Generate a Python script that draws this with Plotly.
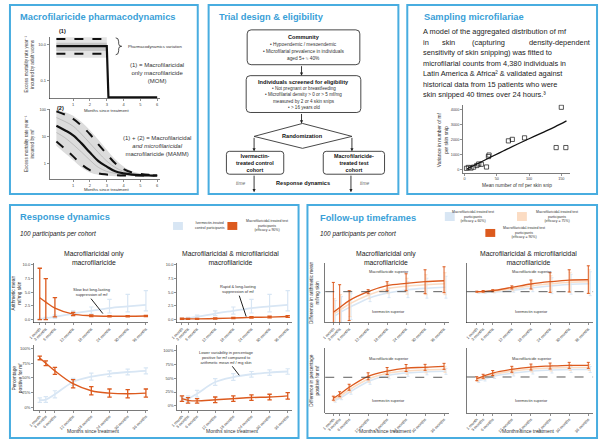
import plotly.graph_objects as go

W, H = 600, 441
TITLE_BLUE = '#3a9fd8'
BORDER = '#48ade0'
ORANGE = '#dc5a1e'
LBLUE = '#d8e6f4'
LORANGE = '#fbdcc3'
TXT = '#333333'
FONT = 'Liberation Sans, Arial, sans-serif'

# ---------------- data ----------------
# Pharmacodynamics (1): adult worm excess mortality
pd1_x = [0, 3, 3.1, 6]
pd1_median = [8.5, 8.5, 0.0115, 0.0115]
pd1_var_x = [0, 3]
pd1_upper = [21, 21]
pd1_lower = [3.2, 3.2]
pd1_band_hi = [26, 26]
pd1_band_lo = [1.9, 1.9]
pd1_inner_hi = [13, 13]
pd1_inner_lo = [4.5, 4.5]

# Pharmacodynamics (2): mf excess mortality
pd2_x = [0, 0.5, 1, 1.5, 2, 2.5, 3, 3.5, 4, 4.5, 5, 5.5, 6]
pd2_median = [25, 17, 11, 5.5, 2.5, 1.2, 0.75, 0.5, 0.42, 0.38, 0.36, 0.35, 0.35]
pd2_upper = [85, 65, 45, 25, 12, 5, 2.2, 1.0, 0.6, 0.45, 0.4, 0.37, 0.36]
pd2_lower = [6.5, 3.5, 1.8, 0.9, 0.55, 0.42, 0.38, 0.36, 0.35, 0.35, 0.35, 0.35, 0.35]
pd2_band_hi = [100, 80, 58, 34, 17, 7.5, 3.2, 1.4, 0.75, 0.5, 0.42, 0.38, 0.37]
pd2_band_lo = [4.5, 2.4, 1.3, 0.7, 0.45, 0.37, 0.34, 0.33, 0.33, 0.33, 0.33, 0.33, 0.33]
pd2_grey_a = [50, 36, 24, 12, 5.5, 2.5, 1.2, 0.7, 0.5, 0.42, 0.38, 0.36, 0.35]
pd2_grey_b = [14, 9, 5, 2.6, 1.3, 0.7, 0.5, 0.42, 0.38, 0.36, 0.35, 0.35, 0.35]
pd_ticks = [1, 2, 3, 4, 5, 6]

# Sampling microfilariae
snip_mean = [3, 6, 10, 14, 19, 22, 26, 34, 37, 38, 68, 74, 93, 142, 150, 157]
snip_var = [60, 120, 80, 140, 250, 350, 330, 150, 850, 950, 1900, 2000, 2100, 1450, 4150, 1450]
fit_mean = [4, 20, 40, 60, 80, 100, 120, 140, 158]
fit_var = [30, 370, 800, 1220, 1640, 2040, 2440, 2840, 3240]

# Response dynamics
months = [1, 3, 6, 12, 18, 24, 30, 36]
month_labels = ['1 month', '3 months', '6 months', '12 months', '18 months',
                '24 months', '30 months', '36 months']
ivm_mean = [0.1, 0.2, 0.5, 1.1, 1.6, 2.1, 2.4, 2.7]
ivm_mean_up = [0.1, 0.2, 0.3, 0.5, 0.7, 1.6, 2.2, 2.6]
ivm_mean_dn = [0.1, 0.15, 0.3, 0.4, 0.6, 0.9, 1.0, 1.1]
mom_mean = [4.0, 3.2, 2.1, 1.0, 0.7, 0.6, 0.6, 0.65]
mom_mean_up = [5.4, 4.3, 1.9, 0.3, 0.15, 0.1, 0.1, 0.1]
mom_mean_dn = [4.0, 3.2, 1.6, 0.3, 0.15, 0.1, 0.1, 0.1]
mamm_mean = [0.15, 0.12, 0.12, 0.18, 0.28, 0.4, 0.45, 0.55]
mamm_mean_err = [0.12, 0.1, 0.1, 0.12, 0.12, 0.15, 0.15, 0.15]
ivm_pct = [12, 13, 22, 43, 52, 57, 60, 62]
ivm_pct_err = [4, 5, 6, 6, 6, 5, 5, 5]
mom_pct = [84, 75, 62, 40, 28, 24, 23, 24]
mom_pct_err = [3, 4, 6, 7, 7, 7, 7, 7]
mamm_pct = [13, 10, 9, 11, 13, 15, 16, 18]
mamm_pct_err = [5, 5, 4, 5, 5, 5, 5, 6]

# Follow-up timeframes (differences vs ivermectin, relative units)
fu_mom_mean_90 = [-2.07, -1.6, -0.9, 0.0, 0.6, 0.83, 1.0, 1.1]
fu_mom_mean_90_up = [3.0, 2.3, 1.0, 0.2, 0.4, 0.97, 1.2, 1.4]
fu_mom_mean_90_dn = [1.5, 1.8, 2.0, 0.2, 0.5, 0.73, 1.2, 1.2]
fu_mom_mean_75 = [-2.2, -1.8, -1.2, -0.3, 0.3, 0.55, 0.7, 0.8]
fu_mom_mean_60 = [-2.4, -2.0, -1.5, -0.6, -0.1, 0.2, 0.35, 0.45]
fu_mom_mean_pale_err = [1.5, 1.5, 1.3, 0.4, 0.5, 0.8, 1.0, 1.1]
fu_mom_pct_90 = [-2.1, -1.7, -1.0, 0.1, 0.63, 0.93, 1.0, 1.1]
fu_mom_pct_90_err = [0.2, 0.25, 0.3, 0.35, 0.35, 0.35, 0.3, 0.3]
fu_mom_pct_75 = [-2.2, -1.85, -1.2, -0.15, 0.4, 0.65, 0.75, 0.8]
fu_mom_pct_60 = [-2.3, -2.0, -1.4, -0.35, 0.2, 0.45, 0.55, 0.6]
fu_mamm_mean_90 = [0.0, 0.03, 0.1, 0.43, 0.77, 1.0, 1.17, 1.2]
fu_mamm_mean_90_up = [0.05, 0.08, 0.1, 0.15, 0.4, 0.9, 1.03, 1.4]
fu_mamm_mean_90_dn = [0.05, 0.08, 0.1, 0.15, 0.5, 1.07, 1.2, 1.37]
fu_mamm_mean_75 = [-0.05, -0.02, 0.05, 0.3, 0.6, 0.8, 0.95, 1.0]
fu_mamm_mean_60 = [-0.1, -0.08, -0.02, 0.15, 0.4, 0.6, 0.75, 0.8]
fu_mamm_mean_pale_err = [0.05, 0.08, 0.1, 0.2, 0.4, 0.8, 1.0, 1.2]
fu_mamm_pct_90 = [-0.17, 0.07, 0.4, 0.77, 1.0, 1.1, 1.17, 1.17]
fu_mamm_pct_90_err = [0.2, 0.2, 0.25, 0.3, 0.3, 0.3, 0.3, 0.3]
fu_mamm_pct_75 = [-0.25, -0.05, 0.25, 0.6, 0.8, 0.9, 0.95, 0.95]
fu_mamm_pct_60 = [-0.35, -0.2, 0.1, 0.4, 0.6, 0.7, 0.75, 0.75]

# ---------------- helpers ----------------
def px(x):
    return x / W


def py(y):
    return 1 - y / H


fig = go.Figure()
layout_axes = {}
annotations = []
shapes = []

AX_COMMON = dict(showline=True, linecolor='#222', linewidth=0.6, ticks='outside',
                 ticklen=2, tickwidth=0.5, tickcolor='#222', showgrid=False,
                 zeroline=False, fixedrange=True)


def axis_pair(i, x0, x1, y0, y1, xr, yr, xtype='linear', ytype='linear',
              xtv=None, xtt=None, ytv=None, ytt=None, xangle=0, yticks=True,
              fs=4.0):
    s = '' if i == 1 else str(i)
    tf = dict(size=fs, color='#444', family=FONT)
    layout_axes['xaxis' + s] = dict(AX_COMMON, domain=[px(x0), px(x1)], range=xr,
                                    type=xtype, anchor='y' + s, tickvals=xtv,
                                    ticktext=xtt, tickangle=xangle, tickfont=tf)
    ydict = dict(AX_COMMON, domain=[py(y1), py(y0)], range=yr, type=ytype,
                 anchor='x' + s, tickvals=ytv, ticktext=ytt, tickfont=tf)
    if not yticks:
        ydict.update(showticklabels=False, ticks='')
    layout_axes['yaxis' + s] = ydict
    return 'x' + s, 'y' + s


def txt(x, y, s, size, color=TXT, xanchor='center', yanchor='middle',
        angle=0, align='center', family=FONT):
    annotations.append(dict(x=px(x), y=py(y), xref='paper', yref='paper', text=s,
                            showarrow=False, xanchor=xanchor, yanchor=yanchor,
                            textangle=angle, align=align, borderpad=0,
                            font=dict(size=size, color=color, family=family)))


def seg(x0, y0, x1, y1, color='#222', width=1, dash='solid'):
    shapes.append(dict(type='line', xref='paper', yref='paper', x0=px(x0), y0=py(y0),
                       x1=px(x1), y1=py(y1), line=dict(color=color, width=width, dash=dash)))


def arrow(x0, y0, x1, y1):
    annotations.append(dict(x=px(x1), y=py(y1), xref='paper', yref='paper',
                            ax=x0 - x1, ay=y0 - y1, text='', showarrow=True,
                            arrowhead=2, arrowsize=0.7, arrowwidth=0.9,
                            arrowcolor='#222'))


def rect(x0, y0, x1, y1, fill=None, line=None, lw=1):
    shapes.append(dict(type='rect', xref='paper', yref='paper', x0=px(x0), y0=py(y0),
                       x1=px(x1), y1=py(y1), fillcolor=fill or 'rgba(0,0,0,0)',
                       line=dict(color=line or 'rgba(0,0,0,0)', width=lw if line else 0)))


def rrect(x0, y0, x1, y1, r=4, color='#333', lw=0.9):
    def P(x, y):
        return f'{px(x):.5f},{py(y):.5f}'
    path = (f'M {P(x0 + r, y0)} L {P(x1 - r, y0)} Q {P(x1, y0)} {P(x1, y0 + r)} '
            f'L {P(x1, y1 - r)} Q {P(x1, y1)} {P(x1 - r, y1)} '
            f'L {P(x0 + r, y1)} Q {P(x0, y1)} {P(x0, y1 - r)} '
            f'L {P(x0, y0 + r)} Q {P(x0, y0)} {P(x0 + r, y0)} Z')
    shapes.append(dict(type='path', xref='paper', yref='paper', path=path,
                       fillcolor='white', line=dict(color=color, width=lw)))


def band(xa, ya, x, hi, lo, color, shape='linear'):
    fig.add_trace(go.Scatter(x=list(x) + list(x)[::-1], y=list(hi) + list(lo)[::-1],
                             xaxis=xa, yaxis=ya, mode='lines', fill='toself',
                             fillcolor=color, line=dict(width=0, shape=shape),
                             hoverinfo='skip'))


def curve(xa, ya, x, y, color, width=1.2, dash='solid', shape='linear'):
    fig.add_trace(go.Scatter(x=x, y=y, xaxis=xa, yaxis=ya, mode='lines',
                             line=dict(color=color, width=width, dash=dash, shape=shape),
                             hoverinfo='skip'))


def errline(xa, ya, x, y, up, dn, color, width=1.4, ethick=1.2, ewidth=2.2, dx=0):
    fig.add_trace(go.Scatter(x=[v + dx for v in x], y=y, xaxis=xa, yaxis=ya,
                             mode='lines',
                             line=dict(color=color, width=width, shape='spline'),
                             error_y=dict(type='data', symmetric=False, array=up,
                                          arrayminus=dn, color=color,
                                          thickness=ethick, width=ewidth),
                             hoverinfo='skip'))


# ---------------- panel frames & titles ----------------
for (a, b, c, d) in [(3, 3, 193, 193), (204, 3, 396, 193), (405, 3, 597, 193),
                     (3, 204, 295, 438), (304, 204, 597, 438)]:
    rect(a, b, c, d, line=BORDER, lw=2)

txt(12, 15, '<b>Macrofilaricide pharmacodynamics</b>', 9.3, TITLE_BLUE, xanchor='left')
txt(213, 15, '<b>Trial design & eligibility</b>', 9.3, TITLE_BLUE, xanchor='left')
txt(421, 15, '<b>Sampling microfilariae</b>', 9.3, TITLE_BLUE, xanchor='left')
txt(12, 216, '<b>Response dynamics</b>', 9.3, TITLE_BLUE, xanchor='left')
txt(316, 217, '<b>Follow-up timeframes</b>', 9.3, TITLE_BLUE, xanchor='left')

# ---------------- panel 1: pharmacodynamics ----------------
xa, ya = axis_pair(1, 43, 155, 35, 97, [-0.41, 6.18], [-2.0, 1.444], ytype='log',
                   xtv=pd_ticks, ytv=[0.1, 10], ytt=['0.1', '10.0'])
band(xa, ya, pd1_var_x, pd1_band_hi, pd1_band_lo, '#e4e4e4')
band(xa, ya, pd1_var_x, pd1_inner_hi, pd1_inner_lo, '#c6c6c6')
curve(xa, ya, pd1_var_x, pd1_upper, '#111', 2, 'dash')
curve(xa, ya, pd1_var_x, pd1_lower, '#111', 2, 'dash')
curve(xa, ya, pd1_x, pd1_median, '#111', 2.2)

xa, ya = axis_pair(2, 43, 155, 107, 178, [-0.41, 6.18], [-0.593, 2.037], ytype='log',
                   xtv=pd_ticks, ytv=[1, 10, 100], ytt=['1', '10', '100'])
band(xa, ya, pd2_x, pd2_band_hi, pd2_band_lo, '#dcdcdc', 'spline')
curve(xa, ya, pd2_x, pd2_grey_a, '#a8a8a8', 0.6, shape='spline')
curve(xa, ya, pd2_x, pd2_grey_b, '#a8a8a8', 0.6, shape='spline')
curve(xa, ya, pd2_x, pd2_upper, '#111', 2, 'dash', 'spline')
curve(xa, ya, pd2_x, pd2_lower, '#111', 2, 'dash', 'spline')
curve(xa, ya, pd2_x, pd2_median, '#111', 2.2, shape='spline')

txt(52, 29, '<b>(1)</b>', 5.5, '#111', xanchor='left')
txt(50, 106, '<b>(2)</b>', 5.5, '#111', xanchor='left')
txt(23, 62, 'Excess mortality rate year⁻¹<br>incurred by adult worms', 4.6, angle=-90)
txt(23, 142, 'Excess mortality rate year⁻¹<br>incurred by mf', 4.6, angle=-90)
txt(101, 108.5, 'Months since treatment', 4.3)
txt(101, 188, 'Months since treatment', 4.3)
shapes.append(dict(type='path', xref='paper', yref='paper', line=dict(color='#222', width=0.8),
                   path=(f'M {px(110)},{py(36)} Q {px(113)},{py(36)} {px(113)},{py(40)} '
                         f'L {px(113)},{py(42)} Q {px(113)},{py(44.5)} {px(116)},{py(44.5)} '
                         f'Q {px(113)},{py(44.5)} {px(113)},{py(47)} L {px(113)},{py(49)} '
                         f'Q {px(113)},{py(53)} {px(110)},{py(53)}')))
txt(121, 45, 'Pharmacodynamics variation', 4.2, xanchor='left')
txt(152, 71, '(1) = Macrofilaricidal<br>only macrofilaricide<br>(MOM)', 6.0)
txt(152, 145, '(1) + (2) = Macrofilaricidal<br><i>and microfilaricidal</i><br>macrofilaricide (MAMM)', 6.0)

# ---------------- panel 2: trial design ----------------
rrect(243, 28, 357, 63)
txt(300, 35, '<b>Community</b>', 5.6, '#111')
txt(300, 43, '• Hypoendemic / mesoendemic', 4.8)
txt(300, 50, '• Microfilarial prevalence in individuals', 4.8)
txt(300, 57, 'aged 5+ ≈ 40%', 4.8)
arrow(298, 63, 298, 74)
rrect(242, 74, 358, 111)
txt(300, 80, '<b>Individuals screened for eligibility</b>', 5.6, '#111')
txt(300, 86.5, '• Not pregnant or breastfeeding', 4.6)
txt(300, 93, '• Microfilarial density > 0 or > 5 mf/mg', 4.6)
txt(300, 99.5, 'measured by 2 or 4 skin snips', 4.6)
txt(300, 106, '• > 16 years old', 4.6)
arrow(298, 111, 298, 122)
shapes.append(dict(type='path', xref='paper', yref='paper', fillcolor='white',
                   line=dict(color='#333', width=0.9),
                   path=(f'M {px(250)},{py(135)} L {px(299)},{py(122)} L {px(349)},{py(135)} '
                         f'L {px(299)},{py(147)} Z')))
txt(299, 135, '<b>Randomization</b>', 5.6, '#111')
arrow(250, 135, 250, 150)
arrow(349, 135, 349, 150)
rrect(222, 150, 280, 173, r=3)
txt(251, 161.5, '<b>Ivermectin-<br>treated control<br>cohort</b>', 5.4, '#111')
rrect(320, 150, 382, 173, r=3)
txt(351, 161.5, '<b>Macrofilaricide-<br>treated test<br>cohort</b>', 5.4, '#111')
arrow(250, 173, 250, 191)
arrow(348, 173, 348, 191)
txt(236, 182, '<i>time</i>', 4.8, '#666')
txt(362, 182, '<i>time</i>', 4.8, '#666')
txt(299, 182, '<b>Response dynamics</b>', 5.6, '#111')

# ---------------- panel 3: sampling ----------------
PARA = 7.4
para_lines = [
    'A model of the aggregated distribution of mf',
    None,
    'sensitivity of skin snipping) was fitted to',
    'microfilarial counts from 4,380 individuals in',
    'Latin America & Africa² & validated against',
    'historical data from 15 patients who were',
    'skin snipped 40 times over 24 hours.³',
]
para_y = [30, 40.5, 51, 61.5, 72, 82.5, 93]
for line_txt, yy in zip(para_lines, para_y):
    if line_txt:
        txt(420, yy, line_txt, PARA, '#222', xanchor='left')
txt(420, para_y[1], 'in', PARA, '#222', xanchor='left')
txt(439, para_y[1], 'skin', PARA, '#222', xanchor='left')
txt(469, para_y[1], '(capturing', PARA, '#222', xanchor='left')
txt(591, para_y[1], 'density-dependent', PARA, '#222', xanchor='right')

xa, ya = axis_pair(3, 461, 570, 103, 172, [-3, 164], [-267, 4333],
                   xtv=[0, 50, 100, 150], ytv=[0, 1000, 2000, 3000, 4000], fs=3.8)
curve(xa, ya, fit_mean, fit_var, '#111', 1.3, shape='spline')
fig.add_trace(go.Scatter(x=snip_mean, y=snip_var, xaxis=xa, yaxis=ya, mode='markers',
                         marker=dict(symbol='square-open', size=4.2,
                                     color='#111', line=dict(width=0.7)),
                         hoverinfo='skip'))
txt(441, 138, 'Variance in number of mf<br>per skin snip', 4.9, angle=-90)
txt(516, 184, 'Mean number of mf per skin snip', 4.8)

# ---------------- panel 4: response dynamics ----------------
txt(12, 233, '<i>100 participants per cohort</i>', 6.4, '#222', xanchor='left')
rect(168, 221, 178, 229, fill=LBLUE)
txt(205, 225, 'Ivermectin-treated<br>control participants', 3.5)
rect(223, 221, 233, 229, fill=ORANGE)
txt(263, 225, 'Macrofilaricidal-treated test<br>participants<br>(efficacy = 90%)', 3.5)
txt(88, 257.5, 'Macrofilaricidal only<br>macrofilaricide', 6.8, '#222')
txt(226, 257.5, 'Macrofilaricidal & microfilaricidal<br>macrofilaricide', 6.8, '#222')

xa, ya = axis_pair(4, 27, 143, 262, 322, [-1.0, 36.8], [-0.55, 10.4],
                   xtv=months, xtt=month_labels, ytv=[0, 2.5, 5, 7.5, 10],
                   ytt=['0.0', '2.5', '5.0', '7.5', '10.0'], xangle=-45)
errline(xa, ya, months, ivm_mean, ivm_mean_up, ivm_mean_dn, LBLUE, 1.8, 1.2)
errline(xa, ya, months, mom_mean, mom_mean_up, mom_mean_dn, ORANGE, 1.4, 1.3)
txt(86, 291, 'Slow but long-lasting<br>suppression of mf', 4.0)
seg(85, 298, 97, 313)

xa, ya = axis_pair(5, 27, 143, 345, 410, [-1.0, 36.8], [-5.1, 105.4],
                   xtv=months, xtt=month_labels, ytv=[0, 25, 50, 75, 100],
                   ytt=['0%', '25%', '50%', '75%', '100%'], xangle=-45)
errline(xa, ya, months, ivm_pct, ivm_pct_err, ivm_pct_err, LBLUE, 1.8, 1.2)
errline(xa, ya, months, mom_pct, mom_pct_err, mom_pct_err, ORANGE, 1.4, 1.3)

xa, ya = axis_pair(6, 172, 288, 262, 322, [-0.65, 37.3], [-0.55, 10.4],
                   xtv=months, xtt=month_labels, ytv=[0, 2.5, 5, 7.5, 10],
                   ytt=['0.0', '2.5', '5.0', '7.5', '10.0'], xangle=-45)
errline(xa, ya, months, ivm_mean, ivm_mean_up, ivm_mean_dn, LBLUE, 1.8, 1.2)
errline(xa, ya, months, mamm_mean, mamm_mean_err, mamm_mean_err, ORANGE, 1.4, 1.3)
txt(234, 288, 'Rapid & long-lasting<br>suppression of mf', 4.0)
seg(235, 295, 242, 316)

xa, ya = axis_pair(7, 172, 288, 345, 410, [-0.65, 37.3], [-7.7, 109],
                   xtv=months, xtt=month_labels, ytv=[0, 25, 50, 75, 100],
                   ytt=['0%', '25%', '50%', '75%', '100%'], xangle=-45)
errline(xa, ya, months, ivm_pct, ivm_pct_err, ivm_pct_err, LBLUE, 1.8, 1.2)
errline(xa, ya, months, mamm_pct, mamm_pct_err, mamm_pct_err, ORANGE, 1.4, 1.3)
txt(222, 357, 'Lower variability in percentage<br>positive for mf compared to<br>arithmetic mean mf / mg skin', 4.0)
seg(228, 366, 235, 375)

txt(10, 292, 'Arithmetic mean<br>mf/mg skin', 4.8, angle=-90)
txt(10, 377, 'Percentage<br>positive for mf', 4.8, angle=-90)
txt(88, 431, 'Months since treatment', 5.0)
txt(228, 431, 'Months since treatment', 5.0)

# ---------------- panel 5: follow-up timeframes ----------------
txt(316, 233, '<i>100 participants per cohort</i>', 6.4, '#222', xanchor='left')
rect(443, 211, 453, 220, fill=LBLUE)
txt(472, 215, 'Macrofilaricidal-treated test<br>participants<br>(efficacy = 60%)', 3.5)
rect(516, 211, 526, 220, fill=LORANGE)
txt(556, 215, 'Macrofilaricidal-treated test<br>participants<br>(efficacy = 75%)', 3.5)
rect(484, 228, 494, 236, fill=ORANGE)
txt(523, 232, 'Macrofilaricidal-treated test<br>participants<br>(efficacy = 90%)', 3.5)
txt(383, 257, 'Macrofilaricidal only<br>macrofilaricide', 6.8, '#222')
txt(528, 257, 'Macrofilaricidal & microfilaricidal<br>macrofilaricide', 6.8, '#222')

fu_panels = [
    (8, 322, 447, 262, 322, [-1.56, 37.5], [-3.1, 2.9],
     fu_mom_mean_60, fu_mom_mean_75, fu_mom_mean_pale_err, fu_mom_mean_pale_err,
     fu_mom_mean_90, fu_mom_mean_90_up, fu_mom_mean_90_dn),
    (9, 322, 447, 348, 413, [-1.56, 37.5], [-3.6, 2.9],
     fu_mom_pct_60, fu_mom_pct_75, fu_mom_pct_90_err, fu_mom_pct_90_err,
     fu_mom_pct_90, fu_mom_pct_90_err, fu_mom_pct_90_err),
    (10, 465, 593, 262, 322, [-2.2, 37.5], [-3.1, 2.9],
     fu_mamm_mean_60, fu_mamm_mean_75, fu_mamm_mean_pale_err, fu_mamm_mean_pale_err,
     fu_mamm_mean_90, fu_mamm_mean_90_up, fu_mamm_mean_90_dn),
    (11, 465, 593, 348, 413, [-2.2, 37.5], [-3.63, 2.87],
     fu_mamm_pct_60, fu_mamm_pct_75, fu_mamm_pct_90_err, fu_mamm_pct_90_err,
     fu_mamm_pct_90, fu_mamm_pct_90_err, fu_mamm_pct_90_err),
]
for (i, x0, x1, y0, y1, xr, yr, s60, s75, pu, pd_, s90, u90, d90) in fu_panels:
    xa, ya = axis_pair(i, x0, x1, y0, y1, xr, yr, xtv=months, xtt=month_labels,
                       xangle=-45, yticks=False)
    shapes.append(dict(type='line', xref=xa + ' domain', yref=ya, x0=0, x1=1, y0=0, y1=0,
                       line=dict(color='#333', width=0.8, dash='dash')))
    errline(xa, ya, months, s60, pu, pd_, LBLUE, 1.6, 1.0, 1.5, dx=0.6)
    errline(xa, ya, months, s75, pu, pd_, LORANGE, 1.6, 1.0, 1.5, dx=0.3)
    errline(xa, ya, months, s90, u90, d90, ORANGE, 1.3, 1.0, 1.5)
    cx = (x0 + x1) / 2 + 2
    ymid_top = y0 + (y1 - y0) * 0.16
    ymid_bot = y0 + (y1 - y0) * 0.82
    txt(cx, ymid_top, 'Macrofilaricide superior', 3.8)
    txt(cx, ymid_bot, 'Ivermectin superior', 3.8)

txt(311, 292, 'Difference in arithmetic mean<br>mf/mg skin', 4.8, angle=-90)
txt(311, 380, 'Difference in percentage<br>positive for mf', 4.8, angle=-90)
txt(383, 431, 'Months since treatment', 5.0)
txt(528, 431, 'Months since treatment', 5.0)

fig.update_layout(width=W, height=H, margin=dict(l=0, r=0, t=0, b=0),
                  paper_bgcolor='white', plot_bgcolor='rgba(0,0,0,0)',
                  showlegend=False, font=dict(family=FONT, color=TXT),
                  annotations=annotations, shapes=shapes, **layout_axes)
fig.write_html('out.html', config={'displayModeBar': False, 'staticPlot': True},
               post_script="document.body.style.margin='0';document.body.style.padding='0';")
